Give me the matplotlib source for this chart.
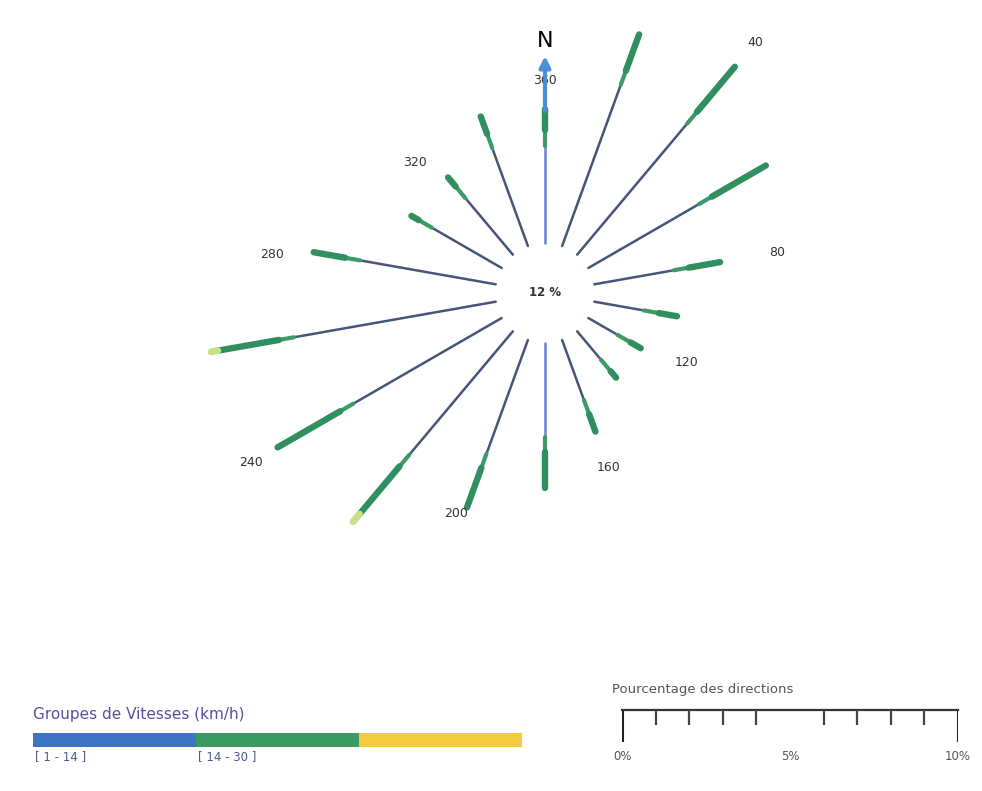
import numpy as np
import matplotlib
matplotlib.use('Agg')
import matplotlib.pyplot as plt

# wind rose data: percentage per direction for each speed group
directions = [0, 20, 40, 60, 80, 100, 120, 140, 160, 180, 200, 220, 240, 260, 280, 300, 320, 340]
speed_1 = [3.1, 5.3, 5.3, 4.0, 2.6, 1.7, 1.2, 1.3, 2.1, 3.0, 3.8, 5.0, 5.3, 6.3, 4.3, 2.6, 2.4, 3.3]
speed_2 = [0.9, 1.4, 2.0, 2.1, 1.2, 0.8, 0.6, 0.5, 0.8, 1.3, 1.5, 2.1, 2.4, 2.1, 1.2, 0.5, 0.6, 0.8]
speed_3 = [0, 0, 0, 0, 0, 0, 0, 0, 0, 0, 0, 0.3, 0, 0.2, 0, 0, 0, 0]
label_dirs = [0, 40, 80, 120, 160, 200, 240, 280, 320]
label_text = ['360', '40', '80', '120', '160', '200', '240', '280', '320']
calm_text = '12 %'
group_names = ['[ 1 - 14 ]', '[ 14 - 30 ]', '']
group_colors = ['#3d74c6', '#3a9a62', '#f2cc3e']
scale_max = 10
scale_labels = ['0%', '5%', '10%']

# label placement tweaks (radial gap in %, angle shift in degrees)
label_gap = [0.83, 0.95, 1.73, 1.4, 1.13, 0.3, 0.9, 1.2, 1.0]
label_shift = [0, 0, 0, -4, 0, 2, 0, -2, -5]

W, H = 982, 791
fig = plt.figure(figsize=(W / 100, H / 100), dpi=100)

# polar axes centred on the rose
cx, cy = 545, H - 293
R = 386
ax = fig.add_axes([(cx - R) / W, (cy - R) / H, 2 * R / W, 2 * R / H], projection='polar')
ax.set_theta_zero_location('N')
ax.set_theta_direction(-1)
ax.set_ylim(0, scale_max)
ax.set_rorigin(-1.49)
ax.axis('off')

for i, d in enumerate(directions):
    th = np.deg2rad(d)
    r1 = speed_1[i]
    r2 = r1 + speed_2[i]
    r3 = r2 + speed_3[i]
    stem = '#6b7fd0' if d in (0, 180) else '#46557a'
    ax.plot([th, th], [0, r1], color=stem, lw=1.8, solid_capstyle='round', clip_on=False)
    ax.plot([th, th], [r1 - 0.2, r2], color='#3c9a6a', lw=3.0, solid_capstyle='round', clip_on=False)
    ax.plot([th, th], [r1 + 0.25, r2], color='#2f8f5f', lw=4.6, solid_capstyle='round', clip_on=False)
    if speed_3[i] > 0:
        ax.plot([th, th], [r2, r3], color='#c8e08a', lw=5, solid_capstyle='round', clip_on=False)

for j, d in enumerate(label_dirs):
    i = directions.index(d)
    total = speed_1[i] + speed_2[i] + speed_3[i]
    ax.text(np.deg2rad(d + label_shift[j]), total + label_gap[j], label_text[j],
            ha='center', va='center', fontsize=9, color='#333333', zorder=2)

# north arrow
ax.annotate('', xy=(0, 5.65), xytext=(0, 3.85),
            arrowprops=dict(arrowstyle='-|>', color='#4a90d9', lw=3, mutation_scale=16),
            zorder=5)
ax.text(0, 6.0, 'N', ha='center', va='center', fontsize=16, color='black')

fig.text(cx / W, cy / H, calm_text, ha='center', va='center', fontsize=8.5,
         color='#333333', fontweight='bold')

# speed group legend
fig.text(33 / W, (H - 715) / H, 'Groupes de Vitesses (km/h)', va='center',
         fontsize=11, color='#5c4d9e')
lax = fig.add_axes([33 / W, (H - 747) / H, (522 - 33) / W, 14 / H])
lax.barh(0, [1, 1, 1], left=[0, 1, 2], height=1, color=group_colors)
lax.set_xlim(0, 3)
lax.set_ylim(-0.5, 0.5)
lax.axis('off')
for i, name in enumerate(group_names):
    lax.text(i + 0.01, -0.7, name, ha='left', va='top', fontsize=8.5, color='#4a5a90')

# percentage scale
fig.text(612 / W, (H - 690) / H, 'Pourcentage des directions', va='center',
         fontsize=9.5, color='#555555')
sax = fig.add_axes([622 / W, (H - 742) / H, 336 / W, 34 / H])
sax.set_xlim(0, scale_max)
sax.set_ylim(0, 1)
sax.axis('off')
sax.plot([0, scale_max], [0.95, 0.95], color='#333333', lw=1.6, clip_on=False)
sax.vlines([0, scale_max], 0, 0.95, color='#222222', lw=2.2)
small = [t for t in range(1, scale_max) if t != scale_max // 2]
sax.vlines(small, 0.5, 0.95, color='#444444', lw=1.6)
for x, lab in zip([0, scale_max / 2, scale_max], scale_labels):
    sax.text(x, -0.25, lab, ha='center', va='top', fontsize=8.5, color='#555555')

fig.savefig('out.png', dpi=100)
